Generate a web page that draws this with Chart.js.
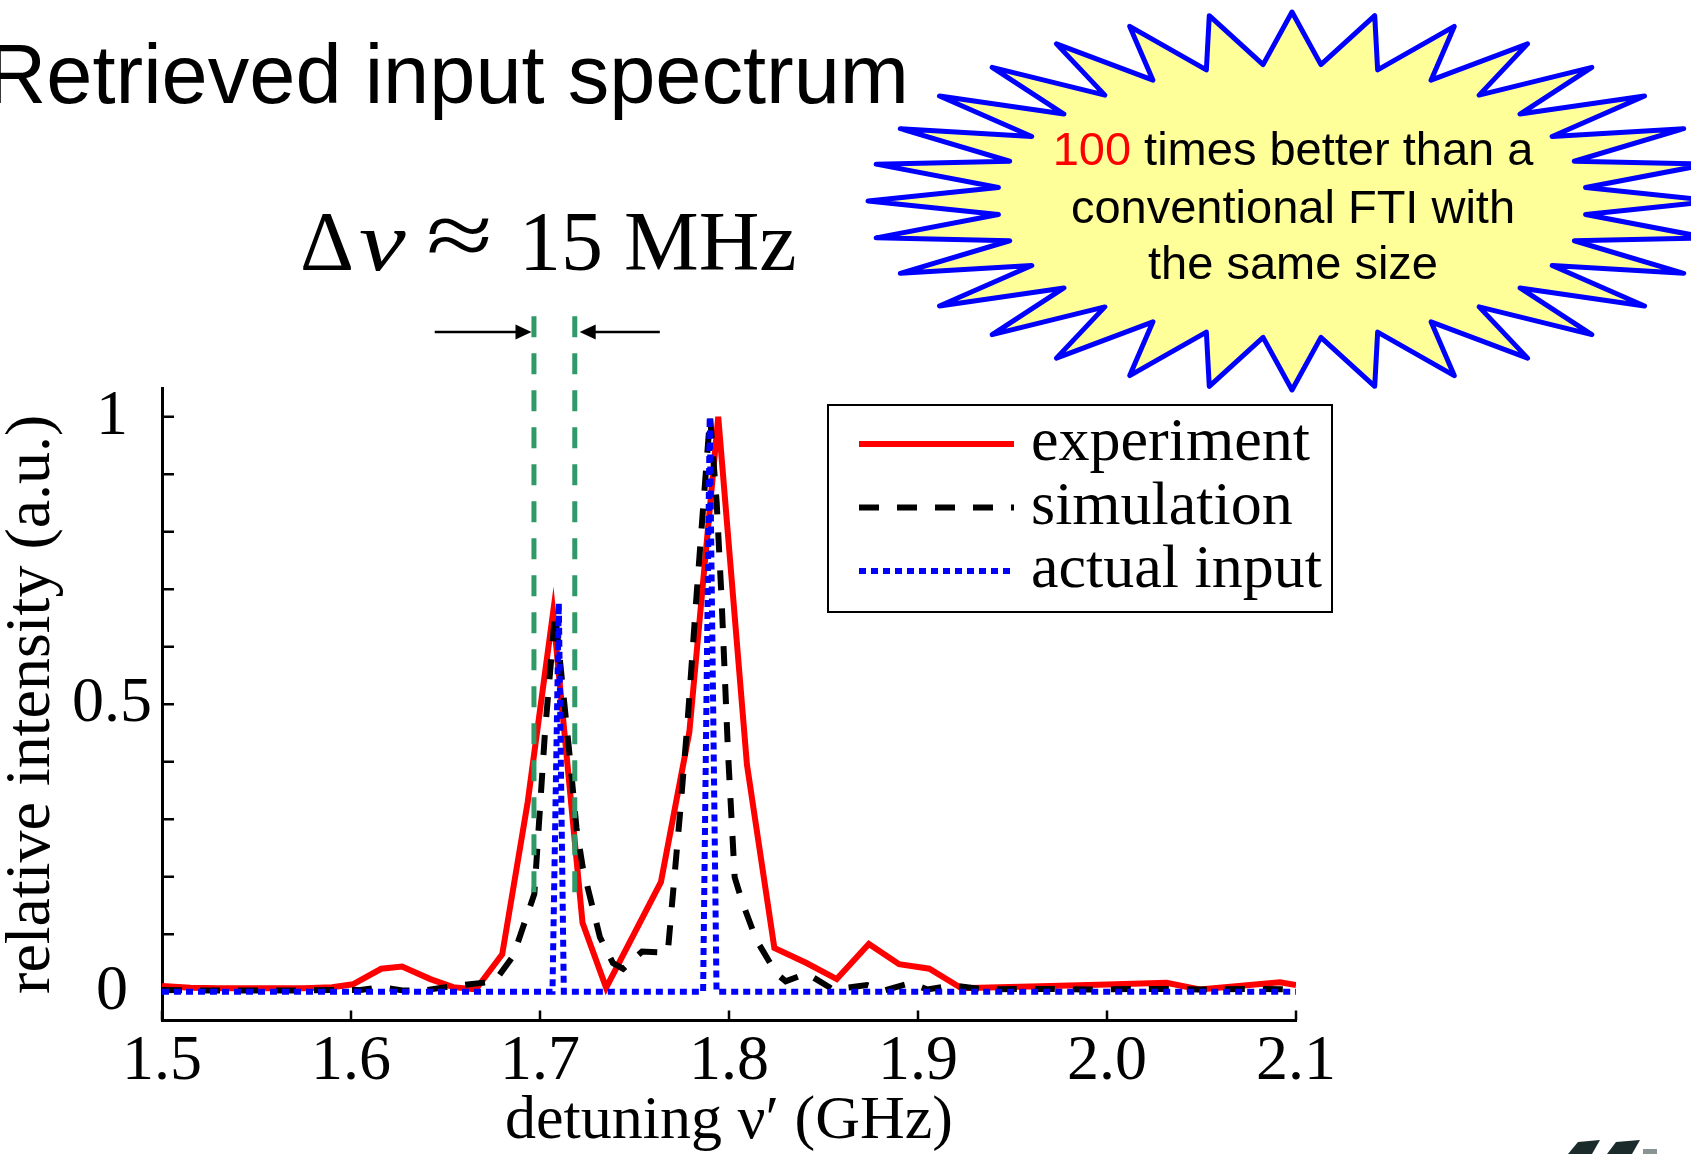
<!DOCTYPE html>
<html>
<head>
<meta charset="utf-8">
<script src="https://cdn.jsdelivr.net/npm/chart.js@4.4.0/dist/chart.umd.min.js"></script>
<style>
html, body { margin: 0; padding: 0; background: #fff; }
canvas { display: block; }
</style>
</head>
<body>
<canvas id="myChart" width="1691" height="1154"></canvas>
<script>
// Data (GHz, relative intensity)
const expX = [1.500, 1.515, 1.530, 1.545, 1.560, 1.575, 1.590, 1.601, 1.616, 1.627, 1.642, 1.654, 1.666, 1.680,
    1.6935, 1.7069, 1.7225, 1.735, 1.764, 1.779, 1.7943, 1.8095, 1.824, 1.841, 1.857, 1.874, 1.890, 1.906,
    1.923, 1.943, 1.970, 2.000, 2.0315, 2.049, 2.0915, 2.100];
const expY = [0.010, 0.007, 0.006, 0.006, 0.006, 0.006, 0.008, 0.013, 0.040, 0.044, 0.022, 0.008, 0.004, 0.065,
    0.330, 0.659, 0.120, 0.007, 0.191, 0.451, 1.000, 0.395, 0.076, 0.050, 0.022, 0.083, 0.048, 0.040,
    0.006, 0.008, 0.010, 0.0125, 0.0155, 0.004, 0.0165, 0.0115];

const simX = [1.500, 1.530, 1.560, 1.590, 1.605, 1.616, 1.628, 1.640, 1.654, 1.668, 1.676, 1.6858, 1.697, 1.7026,
    1.708, 1.7157, 1.7193, 1.7227, 1.7317, 1.7386, 1.744, 1.754, 1.7676, 1.774, 1.778, 1.7828, 1.7865, 1.790,
    1.7935, 1.796, 1.7995, 1.803, 1.807, 1.8145, 1.825, 1.830, 1.841, 1.848, 1.855, 1.873, 1.882, 1.896, 1.905,
    1.918, 1.935, 1.960, 1.990, 2.020, 2.050, 2.080, 2.100];
const simY = [0.003, 0.002, 0.002, 0.003, 0.003, 0.008, 0.002, 0.003, 0.010, 0.015, 0.018, 0.062, 0.170, 0.450,
    0.659, 0.410, 0.285, 0.215, 0.095, 0.050, 0.040, 0.070, 0.068, 0.307, 0.466, 0.688, 0.850, 1.000,
    0.850, 0.688, 0.415, 0.199, 0.156, 0.090, 0.032, 0.018, 0.032, 0.018, 0.004, 0.0115, 0.002, 0.015, 0.004,
    0.011, 0.004, 0.005, 0.004, 0.005, 0.004, 0.005, 0.004];

const inputX = [1.500, 1.7066, 1.70995, 1.7126, 1.7863, 1.7898, 1.7934, 2.100];
const inputY = [0, 0, 0.676, 0, 0, 1.000, 0, 0];

// the two dashed markers of the resolution and the arrows between them
const markerX = [1.6968, 1.7184];
const markerY = [1.175, 0.173];
const arrowFromX = [1.6443, 1.7634];
const arrowToX = [1.6955, 1.7210];
const arrowY = 1.1473;

const xTicks = [1.5, 1.6, 1.7, 1.8, 1.9, 2.0, 2.1];
const yTicks = [0, 0.1, 0.2, 0.3, 0.4, 0.5, 0.6, 0.7, 0.8, 0.9, 1.0];
const yLabels = [0, 0.5, 1];
const legendLabels = ['experiment', 'simulation', 'actual input'];

const SERIF = '"Liberation Serif", "Times New Roman", serif';
const SANS = '"Liberation Sans", Arial, sans-serif';
const RED = '#ff0000';
const BLUE = '#0000ff';
const GREEN = '#2f9a68';
const LINE_W = 6;
const DASH_SIM = [20, 18];
const DASH_IN = [7, 5];

function toPoints(xs, ys) {
    return xs.map((x, i) => ({ x: x, y: ys[i] }));
}

function markerLine(x) {
    return {
        data: [{ x: x, y: markerY[0] }, { x: x, y: markerY[1] }],
        borderColor: GREEN,
        borderWidth: 5,
        borderDash: [21, 16],
        clip: false,
        pointRadius: 0
    };
}

function drawScaledGlyph(ctx, text, x, y, sx, sy) {
    ctx.save();
    ctx.translate(x, y);
    ctx.scale(sx, sy);
    ctx.fillText(text, 0, 0);
    ctx.restore();
}

function drawTitle(ctx) {
    ctx.save();
    ctx.fillStyle = '#000';
    ctx.font = '83px ' + SANS;
    ctx.textAlign = 'right';
    ctx.textBaseline = 'alphabetic';
    ctx.fillText('Retrieved input spectrum', 909, 103);

    // Δν ≈ 15 MHz
    ctx.textAlign = 'left';
    ctx.font = '84px ' + SERIF;
    ctx.fillText('\u0394', 300, 270);
    ctx.font = 'italic 84px ' + SERIF;
    drawScaledGlyph(ctx, '\u03bd', 359, 270, 1.25, 1);
    ctx.font = '84px ' + SERIF;
    drawScaledGlyph(ctx, '\u2248', 426, 266, 1.45, 1.1);
    ctx.fillText('15', 519, 270);
    ctx.fillText('MHz', 624, 270);
    ctx.restore();
}

function drawStar(ctx) {
    const cx = 1292, cy = 201;
    const rxO = 424, ryO = 189, rxI = 295, ryI = 137;
    const n = 32;
    ctx.save();
    ctx.beginPath();
    for (let k = 0; k < n * 2; k++) {
        const a = -Math.PI / 2 + k * Math.PI / n;
        const rx = k % 2 === 0 ? rxO : rxI;
        const ry = k % 2 === 0 ? ryO : ryI;
        const px = cx + rx * Math.cos(a);
        const py = cy + ry * Math.sin(a);
        if (k === 0) ctx.moveTo(px, py); else ctx.lineTo(px, py);
    }
    ctx.closePath();
    ctx.fillStyle = '#ffff99';
    ctx.fill();
    ctx.lineWidth = 5;
    ctx.lineJoin = 'round';
    ctx.strokeStyle = BLUE;
    ctx.stroke();

    ctx.font = '47px ' + SANS;
    ctx.textBaseline = 'alphabetic';
    ctx.textAlign = 'left';
    const first = '100';
    const rest = ' times better than a';
    const w1 = ctx.measureText(first).width;
    const w2 = ctx.measureText(rest).width;
    const x0 = 1293 - (w1 + w2) / 2;
    ctx.fillStyle = RED;
    ctx.fillText(first, x0, 165);
    ctx.fillStyle = '#000';
    ctx.fillText(rest, x0 + w1, 165);
    ctx.textAlign = 'center';
    ctx.fillText('conventional FTI with', 1293, 223);
    ctx.fillText('the same size', 1293, 279);
    ctx.restore();
}

function drawLegend(ctx) {
    const styles = [
        { color: RED, dash: [] },
        { color: '#000', dash: DASH_SIM },
        { color: BLUE, dash: DASH_IN }
    ];
    ctx.save();
    ctx.fillStyle = '#fff';
    ctx.fillRect(828, 405, 504, 207);
    ctx.lineWidth = 2;
    ctx.strokeStyle = '#000';
    ctx.strokeRect(828, 405, 504, 207);
    ctx.font = '62px ' + SERIF;
    ctx.textAlign = 'left';
    ctx.textBaseline = 'alphabetic';
    legendLabels.forEach((label, i) => {
        const ly = 444 + i * 63.5;
        ctx.beginPath();
        ctx.setLineDash(styles[i].dash);
        ctx.lineWidth = LINE_W;
        ctx.strokeStyle = styles[i].color;
        ctx.moveTo(859, ly);
        ctx.lineTo(1014, ly);
        ctx.stroke();
        ctx.setLineDash([]);
        ctx.fillStyle = '#000';
        ctx.fillText(label, 1031, ly + 16);
    });
    ctx.restore();
}

function drawArrows(ctx, xs, ys) {
    ctx.save();
    ctx.strokeStyle = '#000';
    ctx.fillStyle = '#000';
    ctx.lineWidth = 2.5;
    const py = ys.getPixelForValue(arrowY);
    for (let i = 0; i < arrowFromX.length; i++) {
        const a = xs.getPixelForValue(arrowFromX[i]);
        const b = xs.getPixelForValue(arrowToX[i]);
        const dir = b > a ? 1 : -1;
        ctx.beginPath();
        ctx.moveTo(a, py);
        ctx.lineTo(b - dir * 14, py);
        ctx.stroke();
        ctx.beginPath();
        ctx.moveTo(b, py);
        ctx.lineTo(b - dir * 16, py - 7.5);
        ctx.lineTo(b - dir * 16, py + 7.5);
        ctx.closePath();
        ctx.fill();
    }
    ctx.restore();
}

function drawLogoBits(ctx) {
    ctx.save();
    ctx.fillStyle = '#1b2b2b';
    ctx.beginPath();
    ctx.moveTo(1568, 1154); ctx.lineTo(1578, 1142); ctx.lineTo(1600, 1140); ctx.lineTo(1592, 1154);
    ctx.closePath(); ctx.fill();
    ctx.beginPath();
    ctx.moveTo(1607, 1154); ctx.lineTo(1616, 1142); ctx.lineTo(1640, 1140); ctx.lineTo(1632, 1154);
    ctx.closePath(); ctx.fill();
    ctx.fillStyle = '#8a9494';
    ctx.fillRect(1643, 1149, 14, 5);
    ctx.restore();
}

const decorPlugin = {
    id: 'decor',
    beforeDraw(chart) {
        const ctx = chart.ctx;
        ctx.save();
        ctx.fillStyle = '#fff';
        ctx.fillRect(0, 0, chart.width, chart.height);
        ctx.restore();
        drawTitle(ctx);
        drawStar(ctx);
    },
    beforeDatasetsDraw(chart) {
        // inward tick marks like the original figure
        const ctx = chart.ctx;
        const xs = chart.scales.x;
        const ys = chart.scales.y;
        ctx.save();
        ctx.strokeStyle = '#000';
        ctx.lineWidth = 2.5;
        ctx.beginPath();
        yTicks.forEach(v => {
            const py = ys.getPixelForValue(v);
            ctx.moveTo(xs.left, py);
            ctx.lineTo(xs.left + 12, py);
        });
        xTicks.forEach(v => {
            const px = xs.getPixelForValue(v);
            ctx.moveTo(px, ys.bottom);
            ctx.lineTo(px, ys.bottom - 10);
        });
        ctx.stroke();
        ctx.restore();
    },
    afterDraw(chart) {
        const ctx = chart.ctx;
        drawLegend(ctx);
        drawArrows(ctx, chart.scales.x, chart.scales.y);
        drawLogoBits(ctx);
    }
};

const chartCanvas = document.getElementById('myChart');
const chart = new Chart(chartCanvas, {
    type: 'line',
    data: {
        datasets: [
            markerLine(markerX[0]),
            markerLine(markerX[1]),
            {
                label: legendLabels[2],
                data: toPoints(inputX, inputY),
                borderColor: BLUE,
                borderWidth: LINE_W,
                borderDash: DASH_IN,
                pointRadius: 0
            },
            {
                label: legendLabels[1],
                data: toPoints(simX, simY),
                borderColor: '#000',
                borderWidth: LINE_W,
                borderDash: DASH_SIM,
                pointRadius: 0
            },
            {
                label: legendLabels[0],
                data: toPoints(expX, expY),
                borderColor: RED,
                borderWidth: LINE_W,
                pointRadius: 0
            }
        ]
    },
    options: {
        responsive: false,
        animation: false,
        devicePixelRatio: 1,
        layout: { padding: { top: 388, right: 395, bottom: 0, left: 0 } },
        elements: { line: { tension: 0 }, point: { radius: 0 } },
        plugins: {
            legend: { display: false },
            tooltip: { enabled: false }
        },
        scales: {
            x: {
                type: 'linear',
                min: 1.5,
                max: 2.1,
                afterBuildTicks: scale => { scale.ticks = xTicks.map(v => ({ value: v })); },
                afterFit: scale => { scale.height = 133.5; },
                grid: { display: false, drawTicks: false },
                border: { display: true, color: '#000', width: 3 },
                ticks: {
                    color: '#000',
                    font: { family: SERIF, size: 64 },
                    padding: 3,
                    maxRotation: 0,
                    autoSkip: false,
                    callback: v => Number(v).toFixed(1)
                },
                title: {
                    display: true,
                    text: 'detuning \u03bd\u2032 (GHz)',
                    color: '#000',
                    font: { family: SERIF, size: 62, lineHeight: 1 },
                    padding: { top: 0, bottom: 1 }
                }
            },
            y: {
                type: 'linear',
                min: -0.05,
                max: 1.05,
                afterBuildTicks: scale => { scale.ticks = yTicks.map(v => ({ value: v })); },
                afterFit: scale => { scale.width = 162; },
                grid: { display: false, drawTicks: false },
                border: { display: true, color: '#000', width: 3 },
                ticks: {
                    color: '#000',
                    font: { family: SERIF, size: 64 },
                    padding: 10,
                    crossAlign: 'center',
                    autoSkip: false,
                    callback: v => (yLabels.some(l => Math.abs(l - v) < 1e-9) ? String(v) : '')
                },
                title: {
                    display: true,
                    text: 'relative intensity (a.u.)',
                    color: '#000',
                    font: { family: SERIF, size: 64, lineHeight: 1 },
                    padding: { top: 0, bottom: 0 }
                }
            }
        }
    },
    plugins: [decorPlugin]
});
</script>
</body>
</html>
